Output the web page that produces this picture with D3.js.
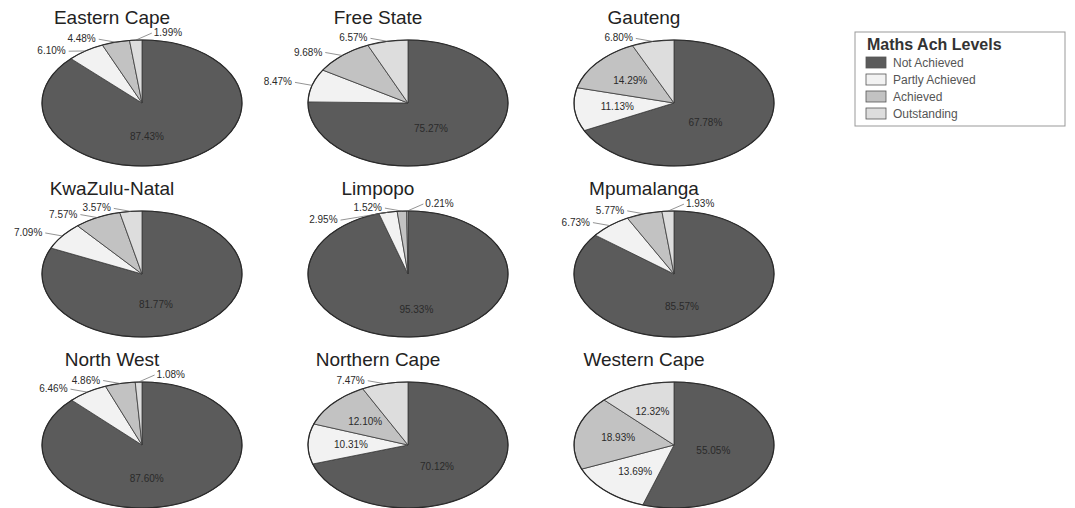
<!DOCTYPE html>
<html>
<head>
<meta charset="utf-8">
<script src="https://cdn.jsdelivr.net/npm/d3@7"></script>
<style>
  body { margin: 0; background: #fff; }
  svg { display: block; font-family: "Liberation Sans", Arial, sans-serif; }
</style>
</head>
<body>
<div id="chart"></div>
<script>
const W = 1075, H = 508
const RX = 100, RY = 63

const provinces = ["Eastern Cape", "Free State", "Gauteng", "KwaZulu-Natal", "Limpopo",
  "Mpumalanga", "North West", "Northern Cape", "Western Cape"]
const levels = ["Not Achieved", "Partly Achieved", "Achieved", "Outstanding"]
const levelColors = ["#5b5b5b", "#f2f2f2", "#c2c2c2", "#dddddd"]

// percentages per province, same order as provinces
const notAchieved    = [87.43, 75.27, 67.78, 81.77, 95.33, 85.57, 87.60, 70.12, 55.05]
const partlyAchieved = [ 6.10,  8.47, 11.13,  7.09,  2.95,  6.73,  6.46, 10.31, 13.69]
const achieved       = [ 4.48,  9.68, 14.29,  7.57,  1.52,  5.77,  4.86, 12.10, 18.93]
const outstanding    = [ 1.99,  6.57,  6.80,  3.57,  0.21,  1.93,  1.08,  7.47, 12.32]

const series = [notAchieved, partlyAchieved, achieved, outstanding]

const svg = d3.select("#chart").append("svg")
  .attr("width", W).attr("height", H)

const colX = d3.scaleLinear().domain([0, 2]).range([142, 674])
const rowY = d3.scaleLinear().domain([0, 2]).range([103, 445])
const color = d3.scaleOrdinal().domain(levels).range(levelColors)

const pie = d3.pie().sort(null).value(d => d.value)
const arc = d3.arc().innerRadius(0).outerRadius(RX)

function pt(a, k) {
  return [k * RX * Math.sin(a), -k * RY * Math.cos(a)]
}

provinces.forEach((name, i) => {
  const cx = colX(i % 3), cy = rowY(Math.floor(i / 3))
  const data = levels.map((lv, j) => ({ level: lv, value: series[j][i] }))
  const arcs = pie(data)

  const g = svg.append("g").attr("transform", `translate(${cx},${cy})`)

  svg.append("text")
    .attr("x", cx - 30)
    .attr("y", cy - 79)
    .attr("text-anchor", "middle")
    .attr("font-size", 19)
    .attr("fill", "#222")
    .text(name)

  const pg = g.append("g").attr("transform", `scale(1,${RY / RX})`)
  pg.selectAll("path")
    .data(arcs)
    .join("path")
      .attr("d", arc)
      .attr("fill", d => color(d.data.level))
      .attr("stroke", "#3a3a3a")
      .attr("stroke-width", 0.8)
      .attr("vector-effect", "non-scaling-stroke")
  pg.append("ellipse")
    .attr("rx", RX).attr("ry", RX)
    .attr("fill", "none")
    .attr("stroke", "#2a2a2a")
    .attr("stroke-width", 1.2)
    .attr("vector-effect", "non-scaling-stroke")

  // labels inside for big slices
  arcs.filter(d => d.data.value >= 10).forEach(d => {
    const mid = (d.startAngle + d.endAngle) / 2
    const p = pt(mid, 0.57)
    g.append("text")
      .attr("x", p[0]).attr("y", p[1] + 3.5)
      .attr("text-anchor", Math.sin(mid) > 0.3 ? "end" : "middle")
      .attr("font-size", 10)
      .attr("fill", "#2a2a2a")
      .text(d.data.value.toFixed(2) + "%")
  })

  // small slices: outside labels with leader lines
  const small = arcs.filter(d => d.data.value < 10)
    .sort((a, b) => b.startAngle - a.startAngle)
  let prev = null
  small.forEach((d, k) => {
    const mid = (d.startAngle + d.endAngle) / 2
    const p = pt(mid, 1)
    const label = d.data.value.toFixed(2) + "%"
    const t = g.append("text")
      .attr("font-size", 10)
      .attr("fill", "#2a2a2a")
      .text(label)
    const tw = t.node().getComputedTextLength()

    if (k === 0 && mid > 355 * Math.PI / 180) {
      const x = p[0] + 18, y = p[1] - 4
      t.attr("x", x).attr("y", y).attr("text-anchor", "start")
      g.append("line")
        .attr("x1", p[0]).attr("y1", p[1])
        .attr("x2", x - 2).attr("y2", y - 3)
        .attr("stroke", "#666").attr("stroke-width", 0.7)
      return
    }

    const endX = y => {
      const dy = y - 3.5
      const xe = Math.abs(dy) < RY ? -RX * Math.sqrt(1 - (dy / RY) ** 2) : 0
      return Math.min(p[0], xe) - 20
    }
    let y = p[1]
    let x = endX(y)
    if (prev) {
      const overlapX = x > prev.x - prev.w - 2 && x - tw < prev.x + 2
      const overlapY = y < prev.y + 11 && y > prev.y - 11
      if (overlapX && overlapY) {
        y = prev.y + 12
        x = endX(y)
      }
    }
    t.attr("x", x).attr("y", y).attr("text-anchor", "end")
    g.append("line")
      .attr("x1", p[0]).attr("y1", p[1])
      .attr("x2", x + 3).attr("y2", y - 3)
      .attr("stroke", "#666").attr("stroke-width", 0.7)
    prev = { x: x, y: y, w: tw }
  })
})

// legend
const lg = svg.append("g").attr("transform", "translate(855,32)")
lg.append("rect")
  .attr("width", 210).attr("height", 94)
  .attr("fill", "#fff").attr("stroke", "#999")
lg.append("text")
  .attr("x", 12).attr("y", 18)
  .attr("font-size", 16).attr("font-weight", "bold")
  .attr("fill", "#333")
  .text("Maths Ach Levels")
const items = lg.selectAll("g.item")
  .data(levels)
  .join("g")
    .attr("class", "item")
    .attr("transform", (d, i) => `translate(11,${25 + i * 17})`)
items.append("rect")
  .attr("width", 20).attr("height", 11)
  .attr("fill", d => color(d))
  .attr("stroke", "#555").attr("stroke-width", 0.8)
items.append("text")
  .attr("x", 27).attr("y", 9.5)
  .attr("font-size", 12)
  .attr("fill", "#555")
  .text(d => d)
</script>
</body>
</html>
